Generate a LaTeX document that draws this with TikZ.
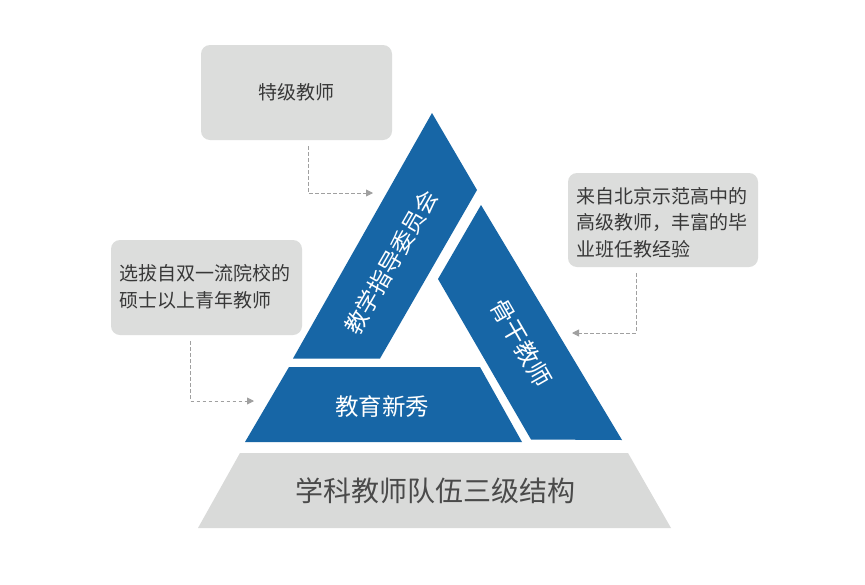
\documentclass[tikz,border=0pt]{standalone}
\usepackage{fontspec}
\setmainfont{Noto Sans CJK SC}
\usetikzlibrary{arrows.meta}
\definecolor{bandblue}{HTML}{1766A6}
\definecolor{boxgray}{HTML}{DCDDDC}
\definecolor{basegray}{HTML}{D9DAD9}
\definecolor{txtgray}{HTML}{383838}
\definecolor{titlegray}{HTML}{4A4A4A}
\definecolor{dashgray}{HTML}{A0A0A0}
\begin{document}
\begin{tikzpicture}[x=1pt,y=-1pt,
  band/.style={fill=bandblue},
  infobox/.style={fill=boxgray, rounded corners=9pt, draw=none, inner sep=0pt},
  infotext/.style={inner sep=0pt, text=txtgray, align=left},
  link/.style={draw=dashgray, line width=0.9pt, dash pattern=on 3.5pt off 2.5pt, -{Triangle[length=7pt,width=7pt,fill=dashgray]}},
  bandtext/.style={text=white, inner sep=0pt},
  ]
\useasboundingbox (0,0) rectangle (865,584);
\fill[white] (0,0) rectangle (865,584);
% base trapezoid
\fill[basegray] (240,453) -- (628,453) -- (671,528) -- (198,528) -- cycle;
% bands
\fill[band] (432,113) -- (477,190) -- (380,358.5) -- (293,358.5) -- cycle;
\fill[band] (481,205) -- (622,440) -- (531,439.5) -- (438,279) -- cycle;
\fill[band] (289,367) -- (480,367) -- (522,442) -- (245,442) -- cycle;
% band texts
\node[bandtext, rotate=60, font=\fontsize{23}{23}\selectfont] (tjw) at (391,262) {教学指导委员会};
\node[bandtext, rotate=-60, font=\fontsize{24}{24}\selectfont] (ggjs) at (521,343) {骨干教师};
\node[bandtext, font=\fontsize{23.5}{23.5}\selectfont] (jyxx) at (382,407) {教育新秀};
\node[inner sep=0pt, text=titlegray, font=\fontsize{28}{28}\selectfont] (title) at (435,490.5) {学科教师队伍三级结构};
% info boxes
\node[infobox, minimum width=191pt, minimum height=95pt] (tbox) at (296.5,92.5) {};
\node[infotext, font=\fontsize{19}{19}\selectfont] (ttext) at (tbox.center) {特级教师};
\node[infobox, minimum width=190pt, minimum height=94pt] (rbox) at (663,220) {};
\node[infotext, anchor=west, font=\fontsize{19}{26.7}\selectfont] (rtext) at (576,222.5) {来自北京示范高中的\\高级教师，丰富的毕\\业班任教经验};
\node[infobox, minimum width=191pt, minimum height=95pt] (lbox) at (206.5,287.5) {};
\node[infotext, anchor=west, font=\fontsize{19}{26.6}\selectfont] (ltext) at (119.5,287) {选拔自双一流院校的\\硕士以上青年教师};
% connectors
\coordinate (tA) at (373,193);
\coordinate (rA) at (572,333);
\coordinate (lA) at (254,401);
\draw[link] ([xshift=11.5pt,yshift=-6pt]tbox.south) |- (tA);
\draw[link] ([xshift=-27pt,yshift=-6pt]rbox.south) |- (rA);
\draw[link] ([xshift=-16pt,yshift=-6pt]lbox.south) |- (lA);
\end{tikzpicture}
\end{document}
